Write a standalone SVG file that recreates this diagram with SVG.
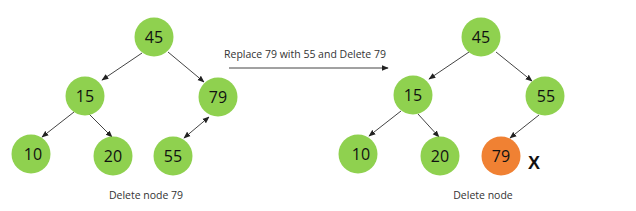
<svg xmlns="http://www.w3.org/2000/svg" width="636" height="211" viewBox="0 0 636 211">
<style>
.g{fill:#8fd14f}
.o{fill:#f08133}
.n{font-family:"Open Sans","Liberation Sans",sans-serif;font-size:16px;fill:#111;text-anchor:middle;dominant-baseline:central}
.l{font-family:"Open Sans","Liberation Sans",sans-serif;font-size:10.5px;fill:#333;text-anchor:middle}
.e{stroke:#444;stroke-width:1;fill:none}
</style>
<defs>
<marker id="a" viewBox="0 0 10 10" refX="9" refY="5" markerWidth="7" markerHeight="7" orient="auto-start-reverse"><path d="M0,1 L10,5 L0,9 z" fill="#222"/></marker>
</defs>
<rect width="636" height="211" fill="#fff"/>
<g id="connectors">
<line class="e" x1="142" y1="53" x2="102" y2="80" marker-end="url(#a)"/>
<line class="e" x1="168" y1="52" x2="204" y2="82" marker-end="url(#a)"/>
<line class="e" x1="74" y1="112" x2="42" y2="137" marker-end="url(#a)"/>
<line class="e" x1="89" y1="114" x2="112" y2="137" marker-end="url(#a)"/>
<line class="e" x1="209" y1="117" x2="184" y2="138" marker-start="url(#a)" marker-end="url(#a)"/>
<line class="e" x1="229" y1="68" x2="388" y2="68" marker-end="url(#a)"/>
<line class="e" x1="469" y1="52" x2="429" y2="79" marker-end="url(#a)"/>
<line class="e" x1="496" y1="52" x2="532" y2="81" marker-end="url(#a)"/>
<line class="e" x1="401" y1="111" x2="369" y2="136" marker-end="url(#a)"/>
<line class="e" x1="418" y1="114" x2="439" y2="137" marker-end="url(#a)"/>
<line class="e" x1="539" y1="115" x2="510" y2="138" marker-end="url(#a)"/>
</g>
<g id="L45"><circle class="g" cx="154" cy="37" r="19.5"/><text class="n" x="154" y="37">45</text></g>
<g id="L15"><circle class="g" cx="85" cy="96" r="19.5"/><text class="n" x="85" y="96">15</text></g>
<g id="L79"><circle class="g" cx="218" cy="97" r="19.5"/><text class="n" x="218" y="97">79</text></g>
<g id="L10"><circle class="g" cx="31" cy="154" r="19.5"/><text class="n" x="33" y="154">10</text></g>
<g id="L20"><circle class="g" cx="113" cy="156" r="19.5"/><text class="n" x="113" y="156">20</text></g>
<g id="L55"><circle class="g" cx="173" cy="156" r="19.5"/><text class="n" x="173" y="156">55</text></g>
<g id="R45"><circle class="g" cx="481" cy="37" r="19.5"/><text class="n" x="481" y="37">45</text></g>
<g id="R15"><circle class="g" cx="413" cy="95" r="19.5"/><text class="n" x="413" y="95">15</text></g>
<g id="R55"><circle class="g" cx="545" cy="96" r="19.5"/><text class="n" x="546" y="96">55</text></g>
<g id="R10"><circle class="g" cx="358" cy="154" r="19.5"/><text class="n" x="361" y="154">10</text></g>
<g id="R20"><circle class="g" cx="440" cy="156" r="19.5"/><text class="n" x="440" y="156">20</text></g>
<g id="R79"><circle class="o" cx="501" cy="156" r="19.5"/><text class="n" x="501" y="156">79</text></g>
<text x="534" y="169" style="font-family:'Liberation Sans',sans-serif;font-size:18px;font-weight:bold;fill:#111;text-anchor:middle">X</text>
<text class="l" x="305" y="58">Replace 79 with 55 and Delete 79</text>
<text class="l" x="146" y="199">Delete node 79</text>
<text class="l" x="483" y="199">Delete node</text>
</svg>
